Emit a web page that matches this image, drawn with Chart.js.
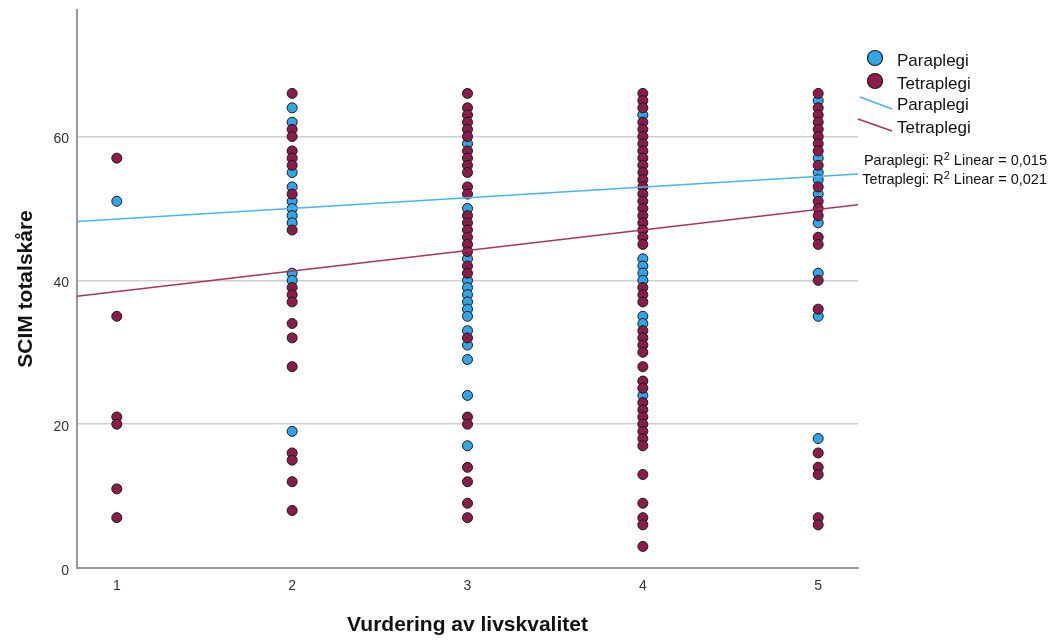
<!DOCTYPE html>
<html>
<head>
<meta charset="utf-8">
<script src="https://cdn.jsdelivr.net/npm/chart.js@4"></script>
<style>
    html, body { margin: 0; padding: 0; background: #fff; }
    #wrap { position: relative; width: 1048px; height: 641px; font-family: "Liberation Sans", Arial, sans-serif; color: #111; }
    #chart { position: absolute; left: 0; top: 0; }
    .lg { position: absolute; white-space: nowrap; }
    .lg-big { font-size: 17px; line-height: 20px; }
    .lg-r2 { font-size: 14.5px; line-height: 16px; right: 1px; text-align: right; }
    .lg-r2 sup { font-size: 11px; line-height: 0; vertical-align: 5px; }
    svg.marks { position: absolute; left: 0; top: 0; }
</style>
</head>
<body>
<div id="wrap">
    <canvas id="chart" width="1048" height="641"></canvas>
    <svg class="marks" width="1048" height="641">
        <circle cx="875" cy="58" r="7.5" fill="#2ea6e9" stroke="#1a1a1a" stroke-width="1.2"></circle>
        <circle cx="875" cy="81" r="7.5" fill="#8c1a4b" stroke="#1a1a1a" stroke-width="1.2"></circle>
        <line x1="860" y1="97" x2="892" y2="109" stroke="#47b5f0" stroke-width="1.5"></line>
        <line x1="858" y1="119" x2="892" y2="131" stroke="#a7345f" stroke-width="1.5"></line>
    </svg>
    <div class="lg lg-big" style="left:897px; top:51px;">Paraplegi</div>
    <div class="lg lg-big" style="left:897px; top:74px;">Tetraplegi</div>
    <div class="lg lg-big" style="left:897px; top:95px;">Paraplegi</div>
    <div class="lg lg-big" style="left:897px; top:118px;">Tetraplegi</div>
    <div class="lg lg-r2" style="top:152px;">Paraplegi: R<sup>2</sup> Linear = 0,015</div>
    <div class="lg lg-r2" style="top:171px;">Tetraplegi: R<sup>2</sup> Linear = 0,021</div>
</div>
<script>
(function () {
    'use strict';

    // Vurdering av livskvalitet (1-5)
    var levels = [1, 2, 3, 4, 5];

    // SCIM totalskåre per level
    var paraScores = [
        [51],
        [64, 62, 55, 53, 51, 50, 49, 48, 41, 40, 19],
        [59, 50, 43, 40, 39, 38, 37, 36, 35, 33, 31, 29, 24, 17],
        [63, 43, 42, 41, 40, 35, 34, 24],
        [65, 57, 55, 54, 52, 48, 41, 35, 18]
    ];
    var tetraScores = [
        [57, 35, 21, 20, 11, 7],
        [66, 61, 60, 58, 57, 56, 52, 47, 39, 38, 37, 34, 32, 28, 16, 15, 12, 8],
        [66, 64, 63, 62, 61, 60, 58, 57, 56, 55, 53, 52, 49, 48, 47, 46, 45, 44, 42, 41, 32, 21, 20, 14, 12, 9, 7],
        [66, 65, 64, 62, 61, 60, 59, 58, 57, 56, 55, 54, 53, 52, 51, 50, 49, 48, 47, 46, 45,
         39, 38, 37, 33, 32, 31, 30, 28, 26, 25, 23, 22, 21, 20, 19, 18, 17, 13, 9, 7, 6, 3],
        [66, 64, 63, 62, 61, 60, 59, 58, 56, 53, 51, 50, 49, 46, 45, 40, 36, 16, 14, 13, 7, 6]
    ];

    // Linear fit lines, ends at the plot edges
    var fitX = [0.773, 5.227];
    var paraFit = [48.2, 54.8];
    var tetraFit = [37.8, 50.5];

    var xTicks = [1, 2, 3, 4, 5];
    var yTicks = [0, 20, 40, 60];

    function toPoints(scores) {
        var pts = [];
        levels.forEach(function (lv, i) {
            scores[i].forEach(function (s) { pts.push({ x: lv, y: s }); });
        });
        return pts;
    }

    function fitPoints(ys) {
        return fitX.map(function (x, i) { return { x: x, y: ys[i] }; });
    }

    var tickFont = { family: 'Liberation Sans', size: 14 };
    var titleFont = { family: 'Liberation Sans', size: 21, weight: 'bold' };

    new Chart(document.getElementById('chart'), {
        type: 'scatter',
        data: {
            datasets: [{
                label: 'Paraplegi fit',
                data: fitPoints(paraFit),
                showLine: true,
                borderColor: '#47b5f0',
                borderWidth: 1.5,
                pointRadius: 0,
            }, {
                label: 'Tetraplegi fit',
                data: fitPoints(tetraFit),
                showLine: true,
                borderColor: '#a7345f',
                borderWidth: 1.5,
                pointRadius: 0,
            }, {
                label: 'Tetraplegi',
                data: toPoints(tetraScores),
                backgroundColor: '#8c1a4b',
                borderColor: '#1a1a1a',
                borderWidth: 1,
                pointRadius: 5,
            }, {
                label: 'Paraplegi',
                data: toPoints(paraScores),
                backgroundColor: '#2ea6e9',
                borderColor: '#1a1a1a',
                borderWidth: 1,
                pointRadius: 5,
            }],
        },
        options: {
            responsive: false,
            animation: false,
            layout: { autoPadding: false, padding: { top: 10, right: 190, left: 0, bottom: 0 } },
            plugins: {
                legend: { display: false },
                tooltip: { enabled: false },
            },
            scales: {
                x: {
                    type: 'linear',
                    min: fitX[0],
                    max: fitX[1],
                    afterBuildTicks: function (scale) {
                        scale.ticks = xTicks.map(function (v) { return { value: v }; });
                    },
                    afterFit: function (scale) {
                        scale.height = 73;
                        scale.paddingLeft = 0;
                        scale.paddingRight = 0;
                    },
                    grid: { color: 'rgba(0,0,0,0)', drawTicks: false },
                    border: { color: '#999999', width: 2 },
                    ticks: { font: tickFont, color: '#333', padding: 10, autoSkip: false, maxRotation: 0 },
                    title: { display: true, text: 'Vurdering av livskvalitet', font: titleFont, color: '#111', padding: { top: 0, bottom: 3 } },
                },
                y: {
                    type: 'linear',
                    min: 0,
                    max: 77.6,
                    afterBuildTicks: function (scale) {
                        scale.ticks = yTicks.map(function (v) { return { value: v }; });
                    },
                    afterFit: function (scale) {
                        scale.width = 77;
                        scale.paddingTop = 0;
                        scale.paddingBottom = 0;
                    },
                    grid: {
                        color: function (ctx) { return ctx.tick && ctx.tick.value === 0 ? 'rgba(0,0,0,0)' : '#cfcfcf'; },
                        lineWidth: 1.5,
                        drawTicks: false,
                    },
                    border: { color: '#999999', width: 2 },
                    ticks: { font: tickFont, color: '#333', padding: 8, labelOffset: 3 },
                    title: { display: true, text: 'SCIM totalskåre', font: titleFont, color: '#111', padding: { top: 14, bottom: 0 } },
                },
            },
        },
    });
})();
</script>
</body>
</html>
